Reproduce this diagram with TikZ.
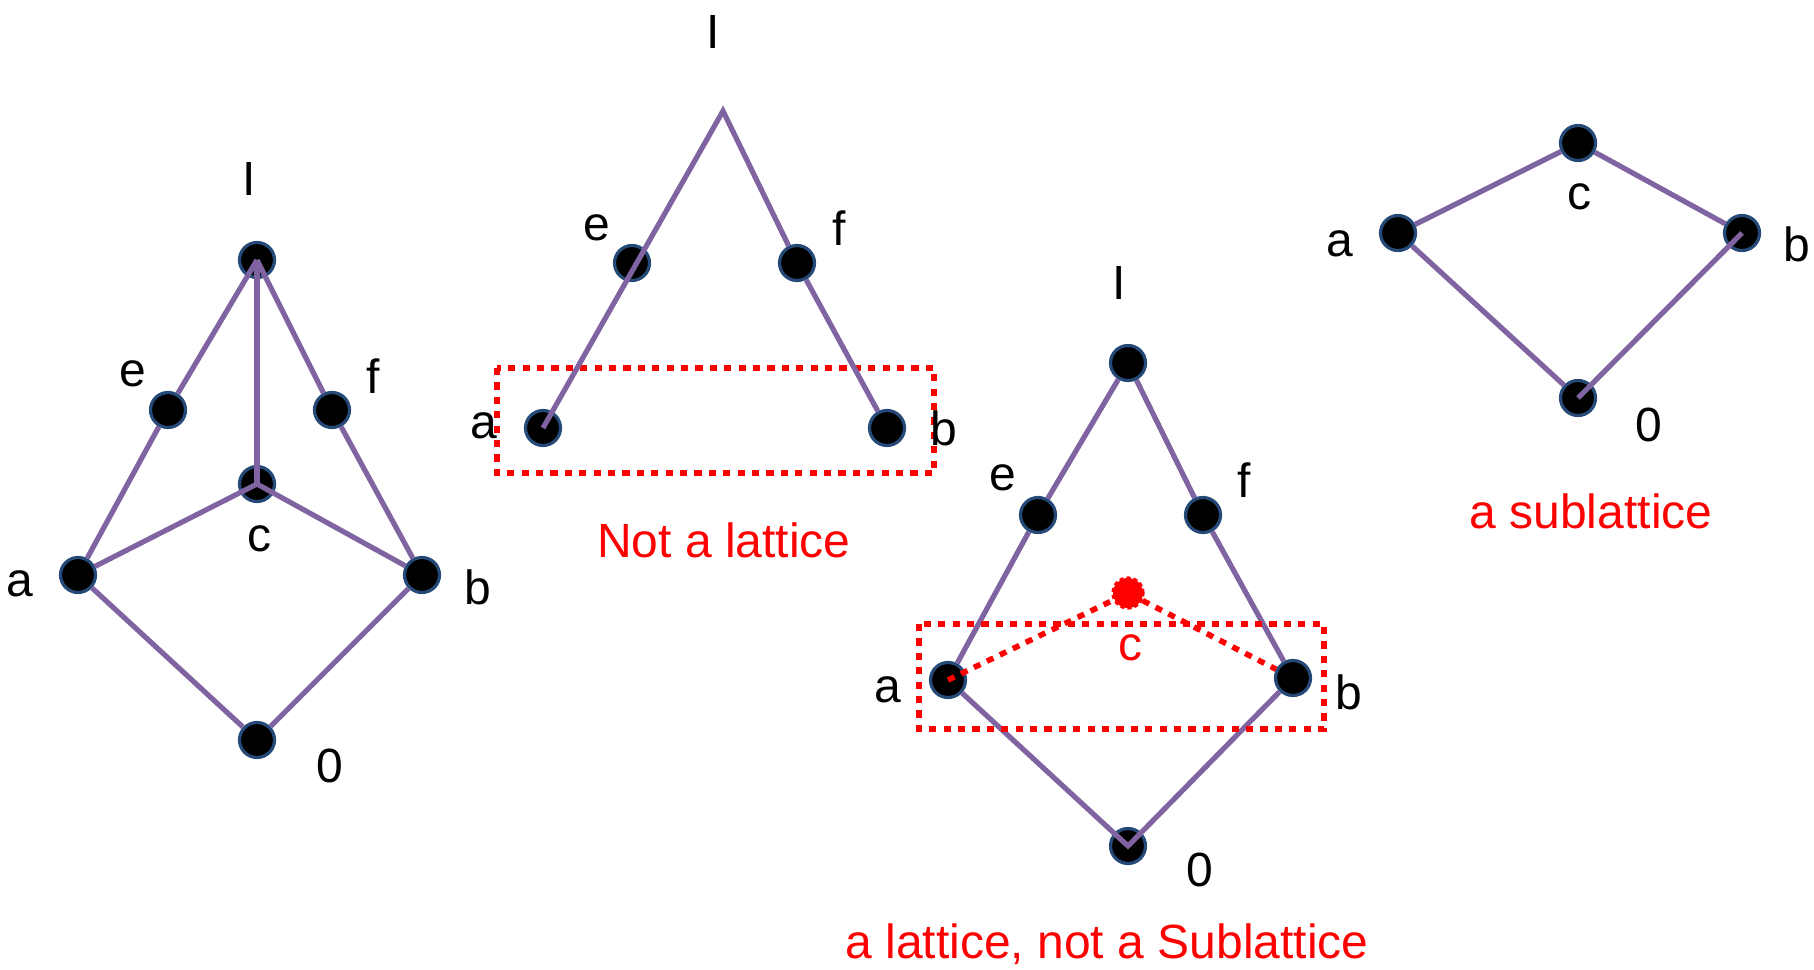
\documentclass[tikz,border=0pt]{standalone}
\usepackage{fontspec}
\setmainfont{Liberation Sans}
\definecolor{edgepurple}{HTML}{8064A2}
\definecolor{nodeblue}{HTML}{254A78}
\tikzset{
  vtx/.style={circle, fill=black, draw=nodeblue, line width=1.6pt, minimum size=17.5pt, inner sep=0pt},
  redvtx/.style={circle, fill=red, draw=red, line width=1.6pt, minimum size=15pt, inner sep=0pt, dash pattern=on 2pt off 1.5pt},
  lnk/.style={draw=edgepurple, line width=2.6pt},
  lbl/.style={font=\fontsize{24}{29}\selectfont, inner sep=0pt},
  redlbl/.style={lbl, text=red},
  redbox/.style={draw=red, line width=2.8pt, dash pattern=on 3.6pt off 3.6pt},
}
\begin{document}
\begin{tikzpicture}[x=0.5pt, y=-0.5pt]
\useasboundingbox (0,0) rectangle (1814,969);

% ---------- diagram 1 ----------
\node[vtx] (LI) at (257,260) {};
\node[vtx] (Le) at (168,410) {};
\node[vtx] (Lf) at (332,410) {};
\node[vtx] (Lc) at (257,484) {};
\node[vtx] (La) at (78,575) {};
\node[vtx] (Lb) at (422,575) {};
\node[vtx] (L0) at (257,740) {};
\draw[lnk] (LI.center) -- (Le) -- (La);
\draw[lnk] (LI.center) -- (Lf) -- (Lb);
\draw[lnk] (LI.center) -- (Lc.center);
\draw[lnk] (La) -- (Lc.center) -- (Lb);
\draw[lnk] (La) -- (L0) -- (Lb);
\node[lbl] (LlI) at (249,179) {I};
\node[lbl] (Lle) at (133,374) {e};
\node[lbl] (Llf) at (373,376) {f};
\node[lbl] (Llc) at (259,539) {c};
\node[lbl] (Lla) at (20,584) {a};
\node[lbl] (Llb) at (478,587) {b};
\node[lbl] (Ll0) at (330,766) {0};

% ---------- diagram 2 ----------
\coordinate (MI) at (723,111);
\node[vtx] (Me) at (632,263) {};
\node[vtx] (Mf) at (797,263) {};
\node[vtx] (Ma) at (543,428) {};
\node[vtx] (Mb) at (887,428) {};
\draw[redbox] (497,368) rectangle (934,473);
\draw[lnk, line join=miter] (Ma.center) -- (MI) -- (Mf);
\draw[lnk] (Mf) -- (Mb);
\node[lbl] (MlI) at (713,32) {I};
\node[lbl] (Mle) at (597,228) {e};
\node[lbl] (Mlf) at (839,228) {f};
\node[lbl] (Mla) at (484,426) {a};
\node[lbl] (Mlb) at (944,428) {b};
\node[redlbl, anchor=base] (Mt) at (724,557) {Not a lattice};

% ---------- diagram 3 ----------
\node[vtx] (TI) at (1128,363) {};
\node[vtx] (Te) at (1038,515) {};
\node[vtx] (Tf) at (1203,515) {};
\node[vtx] (Ta) at (948,680) {};
\node[vtx] (Tb) at (1293,678) {};
\node[vtx] (T0) at (1128,846) {};
\node[redvtx] (Tc) at (1128,593) {};
\draw[lnk] (TI) -- (Te) -- (Ta);
\draw[lnk] (TI) -- (Tf) -- (Tb);
\draw[lnk, line join=miter] (Ta) -- (T0.center) -- (Tb);
\draw[redbox] (919,624) rectangle (1324,729);
\draw[red, line width=2.8pt, dash pattern=on 3.6pt off 3.6pt] (Ta.center) -- (Tc) -- (Tb);
\node[lbl] (TlI) at (1119,283) {I};
\node[lbl] (Tle) at (1003,478) {e};
\node[lbl] (Tlf) at (1244,480) {f};
\node[redlbl] (Tlc) at (1130,648) {c};
\node[lbl] (Tla) at (888,690) {a};
\node[lbl] (Tlb) at (1349,692) {b};
\node[lbl] (Tl0) at (1200,870) {0};
\node[redlbl, anchor=base] (Tt) at (1107,958) {a lattice, not a Sublattice};

% ---------- diagram 4 ----------
\node[vtx] (Rc) at (1578,143) {};
\node[vtx] (Ra) at (1398,233) {};
\node[vtx] (Rb) at (1742,233) {};
\node[vtx] (R0) at (1578,398) {};
\draw[lnk] (Ra) -- (Rc) -- (Rb);
\draw[lnk] (Ra) -- (R0);
\draw[lnk] (R0.center) -- (Rb.center);
\node[lbl] (Rlc) at (1579,197) {c};
\node[lbl] (Rla) at (1340,244) {a};
\node[lbl] (Rlb) at (1797,244) {b};
\node[lbl] (Rl0) at (1649,425) {0};
\node[redlbl, anchor=base] (Rt) at (1591,528) {a sublattice};
\end{tikzpicture}
\end{document}
